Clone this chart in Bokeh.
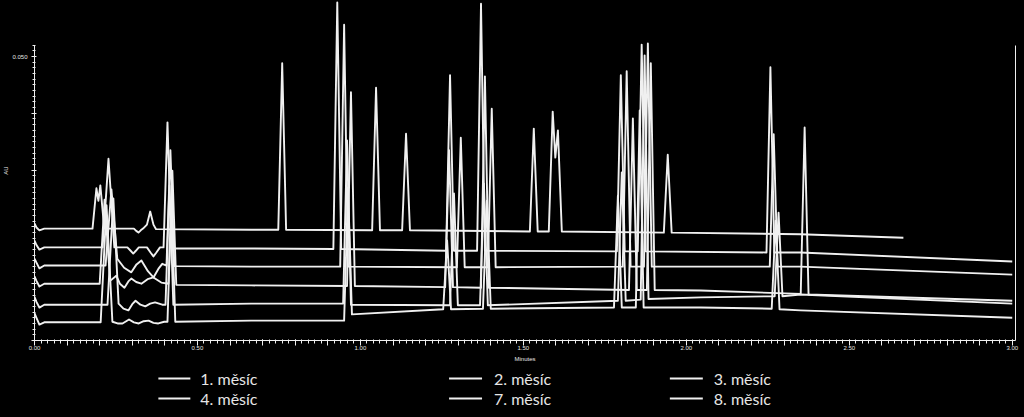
import math
from bokeh.plotting import figure
from bokeh.models import Range1d, FixedTicker, CustomJSTickFormatter, LinearAxis
from bokeh.layouts import column
from bokeh.embed import file_html
from bokeh.resources import INLINE
from bokeh.core.properties import value

# ---------------- data (time in minutes, absorbance in AU) ----------------
legend_labels = ["1. měsíc", "2. měsíc", "3. měsíc", "4. měsíc", "7. měsíc", "8. měsíc"]

t1 = [0.000, 0.006, 0.015, 0.030, 0.178, 0.190, 0.196, 0.202, 0.214,
      0.305, 0.312, 0.319, 0.326, 0.333, 0.345, 0.355, 0.365, 0.373,
      0.665, 0.748, 0.760, 0.772, 1.036, 1.048, 1.060, 1.128, 1.140, 1.152, 1.520, 1.532, 1.544,
      1.578, 1.590, 1.598, 1.606, 1.618, 1.931, 1.943, 1.955, 2.350, 2.666]
a1 = [0.0206, 0.0199, 0.0194, 0.0197, 0.0197, 0.0268, 0.0246, 0.0273, 0.0197,
      0.0197, 0.0193, 0.0190, 0.0194, 0.0197, 0.0204, 0.0227, 0.0204, 0.0196,
      0.0195, 0.0195, 0.0488, 0.0195, 0.0194, 0.0445, 0.0194, 0.0194, 0.0364, 0.0194, 0.0192, 0.0373, 0.0192,
      0.0192, 0.0403, 0.0322, 0.0370, 0.0192, 0.0190, 0.0327, 0.0190, 0.0187, 0.0181]

t2 = [0.000, 0.006, 0.015, 0.030, 0.209, 0.227, 0.245,
      0.285, 0.295, 0.303, 0.311, 0.320, 0.345, 0.356, 0.365, 0.374, 0.385,
      0.396, 0.408, 0.420,
      0.665, 0.917, 0.929, 0.941, 1.263, 1.275, 1.287, 1.358, 1.370, 1.382, 1.787, 1.799, 1.811,
      1.851, 1.863, 1.875, 2.246, 2.258, 2.270, 2.350, 3.000]
a2 = [0.0176, 0.0168, 0.0160, 0.0164, 0.0164, 0.0320, 0.0164,
      0.0164, 0.0158, 0.0153, 0.0158, 0.0164, 0.0164, 0.0155, 0.0148, 0.0155, 0.0164,
      0.0164, 0.0384, 0.0162,
      0.0162, 0.0161, 0.0595, 0.0161, 0.0158, 0.0467, 0.0158, 0.0158, 0.0593, 0.0158, 0.0157, 0.0467, 0.0157,
      0.0157, 0.0521, 0.0157, 0.0155, 0.0481, 0.0155, 0.0155, 0.0139]

t3 = [0.000, 0.006, 0.015, 0.030, 0.218, 0.236, 0.254,
      0.275, 0.297, 0.313, 0.328, 0.348, 0.365, 0.380, 0.392,
      0.405, 0.417, 0.429,
      0.665, 0.938, 0.950, 0.962, 1.296, 1.308, 1.320, 1.391, 1.403, 1.415, 1.805, 1.817, 1.829,
      1.870, 1.882, 1.894, 2.256, 2.268, 2.280, 2.350, 3.000]
a3 = [0.0144, 0.0137, 0.0127, 0.0132, 0.0132, 0.0266, 0.0144,
      0.0128, 0.0120, 0.0134, 0.0141, 0.0122, 0.0111, 0.0126, 0.0135,
      0.0132, 0.0335, 0.0131,
      0.0130, 0.0130, 0.0556, 0.0130, 0.0129, 0.0357, 0.0129, 0.0129, 0.0408, 0.0129, 0.0130, 0.0474, 0.0130,
      0.0130, 0.0523, 0.0130, 0.0130, 0.0363, 0.0130, 0.0130, 0.0116]

t4 = [0.000, 0.006, 0.015, 0.030, 0.200, 0.215, 0.232,
      0.251, 0.262, 0.276, 0.288, 0.297, 0.312, 0.328, 0.347, 0.365, 0.389,
      0.411, 0.423, 0.435,
      0.665, 0.959, 0.971, 0.983, 1.260, 1.272, 1.284, 1.370, 1.382, 1.394, 1.824, 1.836, 1.848,
      1.879, 1.891, 1.903, 2.044, 2.351, 2.363, 2.375, 3.000]
a4 = [0.0113, 0.0105, 0.0095, 0.0100, 0.0100, 0.0248, 0.0105,
      0.0114, 0.0100, 0.0093, 0.0104, 0.0109, 0.0103, 0.0100, 0.0108, 0.0111, 0.0102,
      0.0100, 0.0299, 0.0098,
      0.0097, 0.0096, 0.0437, 0.0096, 0.0094, 0.0335, 0.0094, 0.0093, 0.0465, 0.0093, 0.0089, 0.0391, 0.0089,
      0.0089, 0.0488, 0.0089, 0.0088, 0.0082, 0.0375, 0.0081, 0.0070]

t5 = [0.000, 0.006, 0.015, 0.030, 0.224, 0.242, 0.258,
      0.273, 0.288, 0.300, 0.310, 0.325, 0.340, 0.355, 0.370, 0.392,
      0.402, 0.414, 0.426,
      0.665, 0.947, 0.959, 0.971, 1.275, 1.287, 1.299, 1.367, 1.379, 1.391, 1.790, 1.802, 1.814,
      1.860, 1.872, 1.884, 2.044, 2.271, 2.283, 2.295, 2.350, 3.000]
a5 = [0.0077, 0.0068, 0.0058, 0.0063, 0.0063, 0.0250, 0.0065,
      0.0056, 0.0053, 0.0064, 0.0070, 0.0063, 0.0060, 0.0065, 0.0067, 0.0063,
      0.0063, 0.0273, 0.0063,
      0.0065, 0.0065, 0.0352, 0.0063, 0.0062, 0.0259, 0.0062, 0.0062, 0.0276, 0.0062, 0.0070, 0.0296, 0.0070,
      0.0072, 0.0502, 0.0073, 0.0076, 0.0078, 0.0225, 0.0078, 0.0081, 0.0065]

t6 = [0.000, 0.006, 0.015, 0.030, 0.203, 0.221, 0.239,
      0.255, 0.270, 0.290, 0.305, 0.320, 0.335, 0.350, 0.365, 0.380, 0.398,
      0.408, 0.420, 0.432,
      0.665, 0.950, 0.962, 0.974, 1.254, 1.266, 1.278, 1.376, 1.388, 1.400, 1.778, 1.790, 1.802,
      1.845, 1.857, 1.869, 2.044, 2.262, 2.274, 2.286, 2.350, 3.000]
a6 = [0.0048, 0.0040, 0.0028, 0.0032, 0.0032, 0.0238, 0.0033,
      0.0030, 0.0030, 0.0037, 0.0032, 0.0030, 0.0034, 0.0035, 0.0031, 0.0030, 0.0033,
      0.0033, 0.0246, 0.0033,
      0.0035, 0.0035, 0.0269, 0.0046, 0.0055, 0.0176, 0.0055, 0.0056, 0.0246, 0.0056, 0.0058, 0.0255, 0.0058,
      0.0058, 0.0405, 0.0058, 0.0058, 0.0056, 0.0211, 0.0055, 0.0053, 0.0040]

x_tick_values = [round(i * 0.1, 1) for i in range(31)]
x_minor_values = [round(i * 0.02, 2) for i in range(151)]
y_tick_values = [0.00, 0.01, 0.02, 0.03, 0.04, 0.05]
y_minor_values = [round(i * 0.001, 3) for i in range(53)]

series = [(t1, a1), (t2, a2), (t3, a3), (t4, a4), (t5, a5), (t6, a6)]

# ---------------- styling ----------------
BG = "#000000"
FG = "#f0f0f0"
TXT = "#e6e6e6"
LEFT, RIGHT = 33, 9          # frame borders (px)

p = figure(width=1024, height=366, output_backend="svg", toolbar_location=None,
           x_range=Range1d(0, 3.01), y_range=Range1d(0, 0.05986),
           min_border_left=LEFT, min_border_right=RIGHT, min_border_top=0, min_border_bottom=26,
           background_fill_color=BG, border_fill_color=BG, outline_line_color=None)
p.grid.visible = False

for (t, a), lab in zip(series, legend_labels):
    p.line(t, a, line_color=FG, line_width=1.9, line_join="round", name=lab)

xa = p.xaxis[0]
xa.ticker = FixedTicker(ticks=x_tick_values, minor_ticks=x_minor_values)
xa.formatter = CustomJSTickFormatter(
    code="return Math.abs(tick*2 - Math.round(tick*2)) < 1e-6 ? tick.toFixed(2) : '';")
xa.axis_line_color = FG
xa.major_tick_line_color = FG
xa.minor_tick_line_color = FG
xa.major_tick_in = 1
xa.major_tick_out = 5
xa.minor_tick_in = 1
xa.minor_tick_out = 3
xa.major_label_standoff = 0
xa.major_label_text_font_size = "6px"
xa.major_label_text_color = TXT
xa.major_label_text_font = "Liberation Sans"
xa.axis_label = "Minutes"
xa.axis_label_text_font_size = "6px"
xa.axis_label_text_font_style = "normal"
xa.axis_label_text_color = TXT
xa.axis_label_text_font = "Liberation Sans"
xa.axis_label_standoff = 3

ya = p.yaxis[0]
ya.ticker = FixedTicker(ticks=y_tick_values, minor_ticks=y_minor_values)
ya.formatter = CustomJSTickFormatter(code="return Math.abs(tick - 0.05) < 1e-9 ? '0.050' : '';")
ya.bounds = (0, 0.052)
ya.axis_line_color = FG
ya.major_tick_line_color = FG
ya.minor_tick_line_color = FG
ya.major_tick_in = 2
ya.major_tick_out = 3
ya.minor_tick_in = 1
ya.minor_tick_out = 2
ya.major_label_standoff = 4
ya.major_label_text_font_size = "6px"
ya.major_label_text_color = TXT
ya.major_label_text_font = "Liberation Sans"
ya.axis_label = "AU"
ya.axis_label_text_font_size = "6px"
ya.axis_label_text_font_style = "normal"
ya.axis_label_text_color = TXT
ya.axis_label_text_font = "Liberation Sans"
ya.axis_label_standoff = 0

ra = LinearAxis(ticker=FixedTicker(ticks=[]), major_label_text_font_size="0px",
                axis_line_color=FG, major_tick_line_color=None, minor_tick_line_color=None,
                bounds=(0, 0.052))
p.add_layout(ra, "right")

# ---------------- legend (strip below the chart, x in page pixels) ----------------
leg = figure(width=1024, height=50, output_backend="svg", toolbar_location=None,
             x_range=Range1d(LEFT, 1024 - RIGHT), y_range=Range1d(0, 50),
             x_axis_type=None, y_axis_type=None,
             min_border_left=LEFT, min_border_right=RIGHT, min_border_top=0, min_border_bottom=0,
             background_fill_color=BG, border_fill_color=BG, outline_line_color=None)
leg.grid.visible = False
col_line0 = [157, 448, 669]
col_line1 = [189, 481, 702]
col_text = [199, 493, 713]
row_y = [38, 18]
lx0, lx1, ly, tx = [], [], [], []
for i, lab in enumerate(legend_labels):
    r, c = divmod(i, 3)
    lx0.append(col_line0[c]); lx1.append(col_line1[c]); ly.append(row_y[r]); tx.append(col_text[c])
leg.segment(x0=lx0, y0=ly, x1=lx1, y1=ly, line_color=FG, line_width=2)
leg.text(x=tx, y=ly, text=legend_labels, text_font=value("Lato"), text_font_size="16px",
         text_color=TXT, text_baseline="middle", text_align="left")

layout = column(p, leg, spacing=0)
tmpl = "{% block preamble %}<style>html, body { background-color: #000000; }</style>{% endblock %}"
open("out.html", "w").write(file_html(layout, INLINE, template=tmpl))
